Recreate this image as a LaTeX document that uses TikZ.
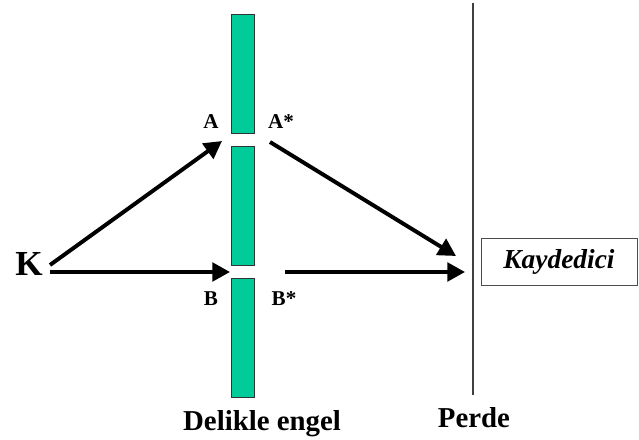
\documentclass[tikz,border=0pt]{standalone}
\usepackage{fontspec}
\setmainfont{Liberation Serif}
\usetikzlibrary{positioning,arrows.meta}
\definecolor{barcol}{RGB}{0,204,153}
\tikzset{
bar/.style={
draw=black!80,
thin,
fill=barcol,
minimum width=0.575cm,
minimum height=2.975cm,
inner sep=0pt
},
lbl/.style={
font=\bfseries\fontsize{15}{17}\selectfont,
inner sep=0pt
},
captext/.style={
font=\bfseries\fontsize{20.5}{23}\selectfont,
inner sep=0pt,
anchor=base
},
arrow/.style={
-{Triangle[length=0.44cm,width=0.46cm]},
line width=2.8pt
}
}

\begin{document}
\begin{tikzpicture}[x=0.025cm,y=-0.025cm]
\useasboundingbox (0,0) rectangle (639,440);
% engel
\node[bar](bar1) at (242.5,73.5){};
\node[bar](bar2) at (242.5,206){};
\node[bar](bar3) at (242.5,337.5){};

\node[lbl](A) at (211,122){A};
\node[lbl](As) at (281,122){A*};
\node[lbl](B) at (211,299){B};
\node[lbl](Bs) at (284,299){B*};

\node[font=\bfseries\fontsize{25}{28}\selectfont,inner sep=0pt](K) at (29,264){K};

% perde
\coordinate (ptop) at (473,3);
\coordinate (pbot) at (473,395);
\draw[black!75,line width=1pt](ptop)--(pbot);

\node[draw=black!70,thin,minimum width=3.9cm,minimum height=1.175cm,inner sep=0pt,
font=\bfseries\itshape\fontsize{19.5}{22}\selectfont](kay) at (559,261.5){Kaydedici};

\node[captext](engel) at (262,430){Delikle engel};
\node[captext](perde) at (474,427){Perde};

\coordinate (kA) at (50,265);
\coordinate (kB) at (50,272);
\coordinate (inA) at (222,141);
\coordinate (inB) at (230,272);
\coordinate (outA) at (270,142);
\coordinate (outB) at (285,272);
\coordinate (rA) at (456,256);
\coordinate (rB) at (465,272);

\draw[arrow](kA)--(inA);
\draw[arrow](kB)--(inB);
\draw[arrow](outA)--(rA);
\draw[arrow](outB)--(rB);
\end{tikzpicture}
\end{document}
